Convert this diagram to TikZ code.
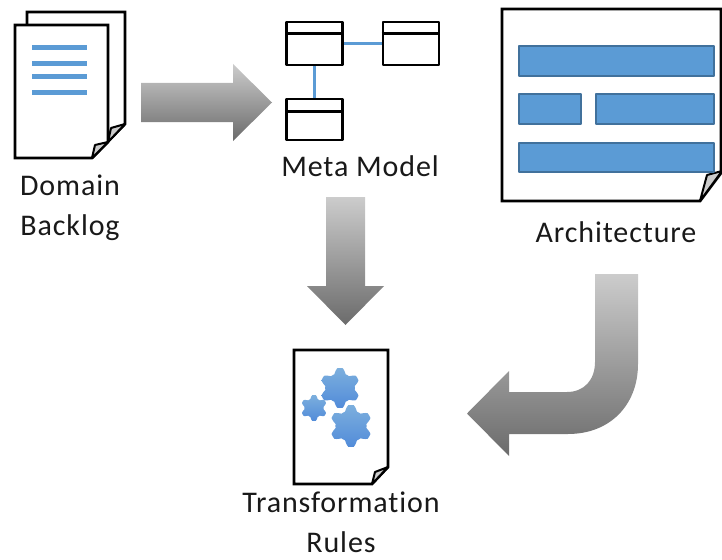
\documentclass[tikz,border=0pt]{standalone}
\usepackage{fontspec}
\setmainfont[LetterSpace=3,Ligatures=NoCommon]{Carlito}
\definecolor{barblue}{HTML}{5B9BD5}
\definecolor{barline}{HTML}{41719C}
\definecolor{linkblue}{HTML}{5B9BD5}
\tikzset{
	page/.style={draw=black,fill=white,line width=2.8pt,line join=miter},
	curl/.style={draw=black,fill=black!20,line width=2pt,line join=round},
	bigarrow/.style={top color=black!20,bottom color=black!58,draw=none},
	classbox/.style={draw=black,line width=2.8pt,fill=white,minimum width=#1,inner sep=0pt},
	classbox/.default=56pt,
	bar/.style={draw=barline,fill=barblue,line width=2pt},
	gear/.style={top color=barblue!80!white,bottom color=barblue!90!blue,draw=none},
	textline/.style={barblue,line width=5pt},
	link/.style={linkblue,line width=2.6pt},
	label/.style={font=\fontsize{30}{40}\selectfont,align=center,inner sep=0pt,text=black!90}
}
\newcommand{\gearat}[3]{%
	\shade[gear,shift={(#1,#2)}] plot[domain=0:360,samples=145] (\x:{#3*(0.87+0.13*min(1,max(-1,1.4*cos(6*(\x-90)))))}) -- cycle;
}
\begin{document}
\begin{tikzpicture}[x=1pt,y=-1pt,line join=round]
	\useasboundingbox (0,0) rectangle (722,559);
	
	% domain backlog
	\draw[page] (27,25)--(27,12)--(125,12)--(125,124)--(92,158);
	\draw[curl] (108,142)--(111,128)--(125,124)--cycle;
	\draw[page] (15,25)--(108,25)--(108,142)--(92,158)--(15,158)--cycle;
	\draw[curl] (92,158)--(95,145)--(108,142)--cycle;
	\foreach \y in {48,64,77,93}
		\draw[textline] (32,\y)--(87,\y);
	\node[label] (backlog) at (70,207.5) {Domain\\Backlog};
	
	\shade[bigarrow] (141,83)--(233,83)--(233,64)--(272,102.5)--(233,141)--(233,122)--(141,122)--cycle;
	
	% meta model
	\node[classbox,minimum height=43pt] (classA) at (314.5,43.5) {};
	\node[classbox,minimum height=43pt] (classB) at (411,43.5) {};
	\node[classbox,minimum height=41pt] (classC) at (314.5,119.5) {};
	\draw[line width=2.8pt] (classA.north west)++(0,13)--++(56,0);
	\draw[line width=2.8pt] (classB.north west)++(0,13)--++(56,0);
	\draw[line width=2.8pt] (classC.north west)++(0,14)--++(56,0);
	\draw[link] (classA)--(classB);
	\draw[link] (classA)--(classC);
	\node[label] (metamodel) at (360,166) {Meta Model};
	
	\shade[bigarrow] (326,197)--(365,197)--(365,286)--(384,286)--(345.5,325)--(307,286)--(326,286)--cycle;
	
	% architecture
	\draw[page] (721,173)--(721,9)--(502,9)--(502,201)--(700,201)--cycle;
	\draw[curl] (700,201)--(707,175)--(722,171)--cycle;
	\draw[bar] (518.5,46.5) rectangle (714,76);
	\draw[bar] (518.5,94.5) rectangle (581,124);
	\draw[bar] (596,94.5) rectangle (714,124);
	\draw[bar] (518.5,142.5) rectangle (714,172);
	\node[label] (architecture) at (616,232) {Architecture};
	
	\shade[bigarrow] (595,274)--(638,274)--(638,364)
		.. controls (638,405) and (610,434) .. (568,434)
		--(509,434)--(509,456)--(467,413.5)--(509,371)--(509,392)--(567,392)
		.. controls (584,392) and (595,380) .. (595,362)--cycle;
	
	% transformation rules
	\draw[page] (294,350)--(388,350)--(388,467)--(372,484)--(294,484)--cycle;
	\draw[curl] (372,484)--(375,472)--(388,467)--cycle;
	\gearat{340}{388}{20}
	\gearat{314}{408}{13}
	\gearat{351}{426}{21}
	\node[label] (rules) at (341,522) {Transformation\\Rules};
\end{tikzpicture}
\end{document}
